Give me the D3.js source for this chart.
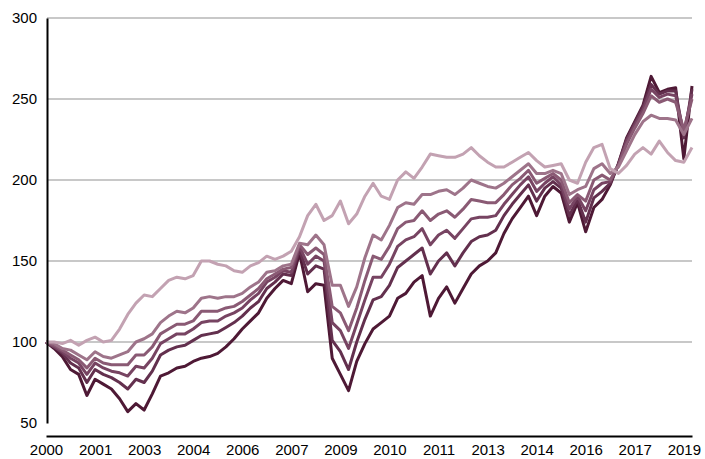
<!DOCTYPE html>
<html><head><meta charset="utf-8">
<script src="https://cdn.jsdelivr.net/npm/d3@7"></script>
<style>body{margin:0;background:#fff} text{font-family:Arial,"Liberation Sans",sans-serif}</style>
</head><body><svg id="c" width="705" height="459"></svg>
<script>
const tickLabels = ['2000','2001','2003','2004','2006','2007','2009','2010','2011','2013','2014','2016','2017','2019'];
const tickIndex = [0,6,12,18,24,30,36,42,48,54,60,66,72,78];
const yTicks = [50,100,150,200,250,300];

const s1 = [100,100,99,101,98,101,103,100,101,108,117,124,129,128,133,138,140,139,141,150,150,148,147,144,143,147,149,153,151,153,156,165,178,185,175,178,187,173,179,190,198,190,188,200,205,201,208,216,215,214,214,216,220,215,211,208,208,211,214,217,212,208,209,210,200,198,211,220,222,207,204,209,216,220,216,224,217,212,211,220];
const s2 = [100,99,96,95,92,89,94,91,90,92,94,100,102,105,112,116,119,118,121,127,128,127,128,128,130,134,137,143,144,147,148,161,160,166,160,135,135,122,134,152,166,163,172,183,186,185,191,191,193,194,191,195,200,198,196,195,198,202,206,210,204,204,206,204,191,194,196,207,210,204,208,218,228,236,240,238,238,237,228,238];
const s3 = [100,98,95,92,89,84,90,87,86,86,86,92,92,97,105,108,111,111,113,119,119,119,121,122,125,129,133,139,142,145,146,160,154,158,154,122,118,107,121,138,153,151,159,170,174,175,181,175,179,181,177,182,188,187,186,186,191,197,201,206,198,201,204,200,186,191,187,200,203,200,209,222,232,241,252,248,250,248,231,250];
const s4 = [100,97,94,90,87,80,87,84,82,81,79,85,84,90,99,102,105,105,108,112,113,113,116,118,121,126,130,137,140,144,143,159,148,153,150,112,107,96,111,126,140,140,148,159,163,165,170,160,166,169,164,170,176,177,177,178,185,191,197,202,193,198,202,197,182,190,181,194,198,199,209,224,234,243,256,251,253,252,229,253];
const s5 = [100,97,93,87,84,75,83,80,78,75,71,77,75,82,92,95,97,98,101,104,105,106,109,112,116,121,125,133,137,142,141,157,142,147,145,101,94,83,100,114,126,128,135,146,150,154,158,142,150,155,147,155,162,165,166,169,178,185,191,197,187,195,199,195,178,188,174,189,193,198,210,225,235,245,259,253,255,255,226,256];
const s6 = [100,96,91,83,80,67,77,74,71,65,57,62,58,68,79,81,84,85,88,90,91,93,97,102,108,113,118,127,133,138,136,155,131,136,135,90,80,70,88,99,108,112,116,127,130,137,141,116,127,134,124,133,142,147,150,155,167,176,183,190,178,190,196,192,174,186,168,183,188,197,210,226,236,246,264,254,256,257,213,258];

const series = [s1, s2, s3, s4, s5, s6];
const colors = ['#c3a2b2', '#9e748a', '#8a5a74', '#774462', '#63304e', '#4e1935'];

const svg = d3.select('#c');
const x = d3.scaleLinear().domain([0, s1.length - 1]).range([46, 692]);
const y = d3.scaleLinear().domain([50, 300]).range([423, 18]);

svg.append('g').selectAll('line').data(yTicks.filter(d => d > 50)).join('line')
  .attr('x1', 47).attr('x2', 692)
  .attr('y1', d => y(d)).attr('y2', d => y(d))
  .attr('stroke', '#c8c8c8').attr('stroke-width', 2);

const line = d3.line().x((d, i) => x(i)).y(d => y(d)).curve(d3.curveLinear);
const order = [5, 4, 3, 2, 1, 0];
svg.append('g').selectAll('path').data(order).join('path')
  .attr('d', k => line(series[k]))
  .attr('fill', 'none')
  .attr('stroke', k => colors[k])
  .attr('stroke-width', 3)
  .attr('stroke-linejoin', 'round');

const yAxis = d3.axisLeft(y).tickValues(yTicks).tickSize(0).tickPadding(10).tickFormat(d3.format('d'));
const gy = svg.append('g').attr('transform', 'translate(47,0)').call(yAxis);
gy.select('.domain').attr('stroke', '#000').attr('stroke-width', 2);
gy.selectAll('text').attr('font-size', 15).attr('fill', '#000').attr('font-family', 'Arial, "Liberation Sans", sans-serif');

const xAxis = d3.axisBottom(x).tickValues(tickIndex).tickSize(0).tickPadding(8).tickFormat((d, i) => tickLabels[i]);
const gx = svg.append('g').attr('transform', 'translate(0,436)').call(xAxis);
gx.select('.domain').attr('stroke', '#000').attr('stroke-width', 2);
gx.selectAll('text').attr('font-size', 15).attr('fill', '#000').attr('font-family', 'Arial, "Liberation Sans", sans-serif');
</script></body></html>
